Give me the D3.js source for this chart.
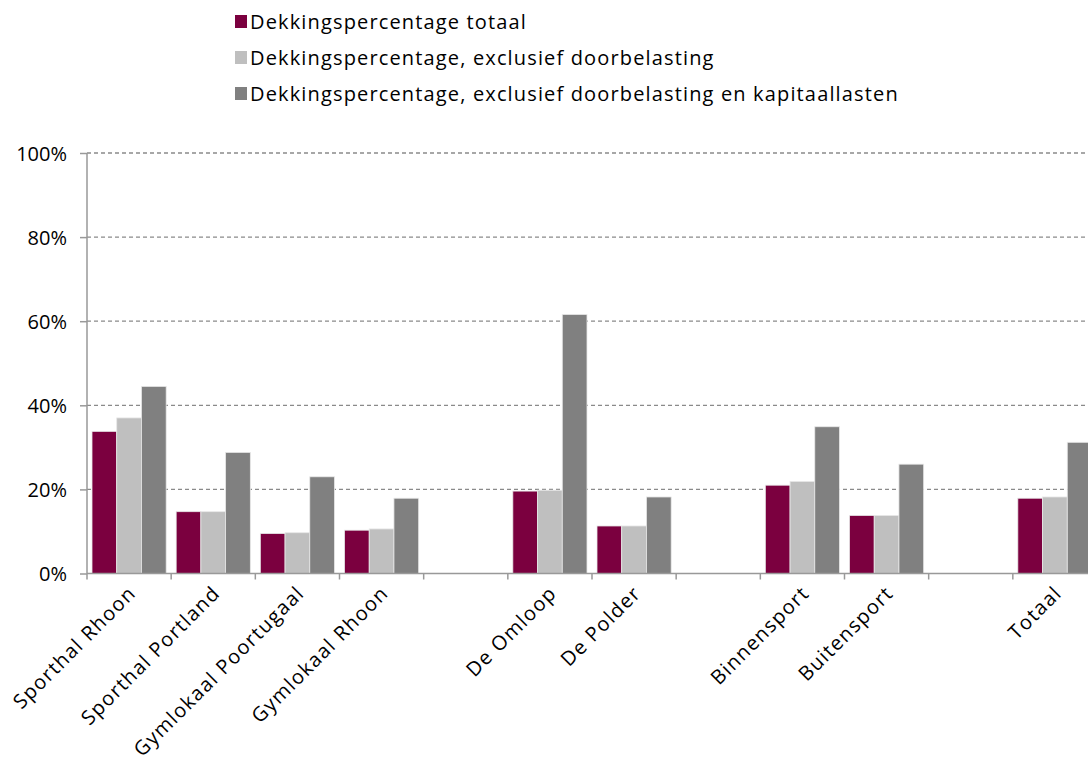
<!DOCTYPE html>
<html><head><meta charset="utf-8">
<script src="https://cdn.jsdelivr.net/npm/d3@7"></script>
<style>
html,body{margin:0;padding:0;background:#fff;overflow:hidden}
text{font-family:"Open Sans",sans-serif;fill:#000}
</style></head>
<body><svg id="c" width="1088" height="760"></svg>
<script>
const categories = ["Sporthal Rhoon","Sporthal Portland","Gymlokaal Poortugaal","Gymlokaal Rhoon",null,"De Omloop","De Polder",null,"Binnensport","Buitensport",null,"Totaal"];
const seriesNames = ["Dekkingspercentage totaal","Dekkingspercentage, exclusief doorbelasting","Dekkingspercentage, exclusief doorbelasting en kapitaallasten"];
const totaal   = [33.8,14.7,9.5,10.3,null,19.6,11.3,null,21.0,13.8,null,17.9];
const exclDoor = [37.0,14.7,9.7,10.6,null,19.8,11.3,null,21.9,13.8,null,18.2];
const exclKap  = [44.5,28.8,23.0,17.9,null,61.6,18.2,null,34.9,26.0,null,31.2];
const yTicks = [0,20,40,60,80,100];
const colors = ["#7b003f","#bfbfbf","#808080"];

const svg = d3.select("#c");
const pLeft = 87, pRight = 1097, pTop = 153, pBottom = 573.5;
const values = [totaal, exclDoor, exclKap];

const x0 = d3.scaleBand().domain(d3.range(categories.length)).range([pLeft, pRight]).padding(0);
const x1 = d3.scaleBand().domain(d3.range(seriesNames.length)).range([5, x0.bandwidth() - 5]).padding(0);
const y = d3.scaleLinear().domain([0, 100]).range([pBottom, pTop]);

// gridlines
svg.append("g").selectAll("line").data(yTicks.filter(d => d > 0)).join("line")
  .attr("x1", pLeft).attr("x2", 1088)
  .attr("y1", d => y(d)).attr("y2", d => y(d))
  .attr("stroke", "#8a8a8a").attr("stroke-width", 1.3).attr("stroke-dasharray", "4,3");

// bars
const g = svg.append("g");
categories.forEach((c, i) => {
  if (c === null) return;
  values.forEach((arr, s) => {
    const v = arr[i];
    g.append("rect")
      .attr("x", x0(i) + x1(s))
      .attr("y", y(v))
      .attr("width", x1.bandwidth())
      .attr("height", y(0) - y(v))
      .attr("fill", colors[s])
      .attr("stroke", "#e8e8e8").attr("stroke-width", 0.8);
  });
});

// y axis
const yAxis = d3.axisLeft(y).tickValues(yTicks).tickFormat(d => d + "%").tickSize(7).tickPadding(13);
const ya = svg.append("g").attr("transform", `translate(${pLeft},0)`).call(yAxis);
ya.select(".domain").attr("stroke", "#999").attr("stroke-width", 1.5).attr("d", `M0,${pTop}V${pBottom}`);
ya.selectAll(".tick line").attr("stroke", "#999").attr("stroke-width", 1.5);
ya.selectAll(".tick text").attr("font-family", "Open Sans").attr("font-size", 20).attr("fill", "#000").attr("dy", "0.36em");

// x axis (boundaries ticks)
const xa = svg.append("g");
xa.append("line").attr("x1", pLeft).attr("x2", 1088).attr("y1", y(0)).attr("y2", y(0)).attr("stroke", "#999").attr("stroke-width", 1.5);
xa.selectAll("line.t").data(d3.range(categories.length + 1)).join("line").attr("class", "t")
  .attr("x1", d => pLeft + d * x0.step()).attr("x2", d => pLeft + d * x0.step())
  .attr("y1", y(0)).attr("y2", y(0) + 6).attr("stroke", "#999").attr("stroke-width", 1.5);
xa.selectAll("text").data(categories.map((c, i) => ({c, i})).filter(d => d.c !== null)).join("text")
  .attr("transform", d => `translate(${x0(d.i) + x0.bandwidth() / 2 + 8},${y(0) + 21}) rotate(-45)`)
  .attr("text-anchor", "end")
  .attr("font-size", 20).attr("letter-spacing", 1.3)
  .text(d => d.c);

// legend
const lg = svg.append("g");
seriesNames.forEach((n, s) => {
  const by = 29 + s * 36;
  lg.append("rect").attr("x", 235).attr("y", by - 14).attr("width", 12).attr("height", 13).attr("fill", colors[s]);
  lg.append("text").attr("x", 250).attr("y", by)
    .attr("font-size", 20).attr("letter-spacing", 1.15).text(n);
});
</script></body></html>
